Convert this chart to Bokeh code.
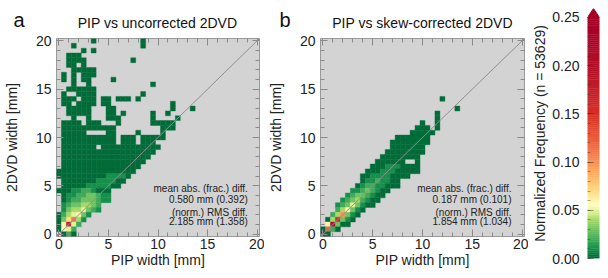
import numpy as np
from bokeh.plotting import figure
from bokeh.models import (Range1d, LinearAxis, FixedTicker, Label,
                          PrintfTickFormatter, ColumnDataSource)
from bokeh.layouts import row, column
from bokeh.embed import file_html
from bokeh.resources import INLINE

# ---------------- data ----------------
BIN_MM = 0.5
AXIS_LO, AXIS_HI = -0.25, 20.25
MM_TICKS = [0, 5, 10, 15, 20]
MM_MINOR = list(range(0, 21))
CB_TICKS = [0.00, 0.05, 0.10, 0.15, 0.20, 0.25]
CB_MINOR = [round(0.01 * i, 2) for i in range(26)]
CB_MAX = 0.25
N_TOTAL = 53629
LOW_LEVEL = 0.001   # value of a '#' cell; other chars = base-36 value / 100

# (row index ky, first column index kx, pattern); cell centre = index * 0.5 mm
CELLS_A = [
    (40, 7, "#.........#"),
    (39, 3, "#.............#"),
    (38, 5, "#.#"),
    (37, 2, "###"),
    (36, 2, "####.........#"),
    (35, 2, "##.#"),
    (34, 3, "#####"),
    (33, 1, "#.#.###"),
    (32, 1, "#.#.##....#"),
    (31, 3, "#..#............#"),
    (30, 2, "######"),
    (29, 1, "#..####.........#"),
    (28, 1, "###.###.##.###.#"),
    (27, 1, "##.####.##............#"),
    (26, 2, "#####...##...........#...#"),
    (25, 2, "#####...##.#.....#..#"),
    (24, 3, "#..#...###......#....#"),
    (23, 1, "####.###...#......#####"),
    (22, 1, "###########.........###"),
    (21, 1, "#####....##....#....#"),
    (20, 1, "###########.###.#####"),
    (19, 1, "###########.###.###"),
    (18, 1, "#######.############"),
    (17, 1, "###################"),
    (16, 1, "##################"),
    (15, 1, "#################"),
    (14, 1, "################"),
    (13, 0, "################"),
    (12, 0, "##########1111#"),
    (11, 1, "#######1111##"),
    (10, 1, "#####11111##"),
    (9, 0, "###11221###"),
    (8, 1, "#112233211"),
    (7, 1, "#122333211"),
    (6, 1, "12334432"),
    (5, 1, "13445321"),
    (4, 0, "#245631"),
    (3, 0, "#37b41"),
    (2, 0, "#6h52"),
    (1, 0, "#652"),
    (0, 1, "#2#"),
]

CELLS_B = [
    (28, 24, "#"),
    (26, 27, "#"),
    (25, 23, "#"),
    (24, 23, "#"),
    (23, 20, "#..#"),
    (22, 19, "###.#"),
    (21, 18, "#####"),
    (20, 15, "#######"),
    (19, 14, "########"),
    (18, 14, "#######"),
    (17, 13, "########"),
    (16, 12, "########"),
    (15, 11, "######..#"),
    (14, 10, "###111####"),
    (13, 9, "###111#####"),
    (12, 8, "##1111####"),
    (11, 8, "#11211##"),
    (10, 7, "#12211###"),
    (9, 6, "112321##"),
    (8, 5, "123321##"),
    (7, 4, "123421##"),
    (6, 3, "123531##"),
    (5, 3, "24631#"),
    (4, 2, "24a31#"),
    (3, 1, "#4g31#"),
    (2, 1, "6l3##"),
    (1, 0, "#c2#"),
    (0, 0, "##"),
]

TITLES = ["PIP vs uncorrected 2DVD", "PIP vs skew-corrected 2DVD"]
LETTERS = ["a", "b"]
STATS_A = ["mean abs. (frac.) diff.", "0.580 mm (0.392)",
           "(norm.) RMS diff.", "2.185 mm (1.358)"]
STATS_B = ["mean abs. (frac.) diff.", "0.187 mm (0.101)",
           "(norm.) RMS diff.", "1.854 mm (1.034)"]
XLABEL = "PIP width [mm]"
YLABEL = "2DVD width [mm]"
CBLABEL = "Normalized Frequency (n = %d)" % N_TOTAL

# ---------------- style ----------------
FONT = "Liberation Sans"
CM_POS = [0.0, 0.012, 0.028, 0.040, 0.048, 0.056, 0.068, 0.088, 0.115, 0.150, 0.195, 0.25]
CM_HEX = ["#006837", "#1a9850", "#66bd63", "#a6d96a", "#d9ef8b", "#ffffbf",
          "#fee08b", "#fdae61", "#f46d43", "#d73027", "#b5122a", "#a50026"]
CM_RGB = np.array([[int(h[i:i + 2], 16) for i in (1, 3, 5)] for h in CM_HEX], float)

HDR_H = 30
PANEL_H = 240
PW = 264


def cmap(v):
    v = min(max(v, 0.0), CB_MAX)
    rgb = [np.interp(v, CM_POS, CM_RGB[:, k]) for k in range(3)]
    return "#%02x%02x%02x" % tuple(int(round(c)) for c in rgb)


def parse(cells):
    xs, ys, cs = [], [], []
    for ky, kx0, pat in cells:
        for off, ch in enumerate(pat):
            if ch == ".":
                continue
            v = LOW_LEVEL if ch == "#" else int(ch, 36) / 100.0
            xs.append((kx0 + off) * BIN_MM)
            ys.append(ky * BIN_MM)
            cs.append(cmap(v))
    return xs, ys, cs


def style_axis(ax, labels):
    ax.ticker = FixedTicker(ticks=MM_TICKS, minor_ticks=MM_MINOR)
    ax.major_tick_in = 7
    ax.major_tick_out = 0
    ax.minor_tick_in = 4
    ax.minor_tick_out = 0
    ax.major_tick_line_color = "#8a8a8a"
    ax.minor_tick_line_color = "#8a8a8a"
    ax.axis_line_color = None
    ax.major_label_text_font = FONT
    ax.axis_label_text_font = FONT
    ax.axis_label_text_font_style = "normal"
    ax.axis_label_text_font_size = "14px"
    ax.axis_label_text_color = "#222222"
    if labels:
        ax.major_label_text_font_size = "14px"
        ax.major_label_text_color = "#222222"
    else:
        ax.major_label_text_font_size = "1px"
        ax.major_label_text_color = None
        ax.major_label_standoff = 0


def header(title, letter, letter_x, title_x):
    h = figure(width=PW, height=HDR_H, x_range=Range1d(0, PW), y_range=Range1d(0, HDR_H),
               min_border=0, min_border_left=0, min_border_right=0,
               min_border_top=0, min_border_bottom=0,
               x_axis_location=None, y_axis_location=None,
               toolbar_location=None, output_backend="svg", title=None)
    h.frame_align = False
    h.outline_line_color = None
    h.grid.visible = False
    h.add_layout(Label(x=letter_x, y=HDR_H - 19, text=letter, text_align="left",
                       text_baseline="alphabetic", text_font=FONT,
                       text_font_size="20px", text_color="#111111"))
    h.add_layout(Label(x=title_x, y=HDR_H - 22, text=title, text_align="center",
                       text_baseline="alphabetic", text_font=FONT,
                       text_font_size="14px", text_color="#111111"))
    return h


def panel(cells, stats, left, right, stats_x):
    p = figure(width=PW, height=PANEL_H,
               x_range=Range1d(AXIS_LO, AXIS_HI), y_range=Range1d(AXIS_LO, AXIS_HI),
               min_border_left=left, min_border_right=right,
               min_border_top=8, min_border_bottom=34,
               toolbar_location=None, output_backend="svg", title=None)
    p.frame_align = False
    p.background_fill_color = "#d3d3d3"
    p.border_fill_color = "white"
    p.outline_line_color = "#9a9a9a"
    p.grid.visible = False

    xs, ys, cs = parse(cells)
    src = ColumnDataSource(dict(x=xs, y=ys, c=cs))
    p.rect("x", "y", width=BIN_MM, height=BIN_MM, source=src,
           fill_color="c", line_color="c", line_width=0.4)
    p.line([AXIS_LO, AXIS_HI], [AXIS_LO, AXIS_HI], line_color="#8f8f8f", line_width=1)

    p.add_layout(LinearAxis(), "above")
    p.add_layout(LinearAxis(), "right")
    style_axis(p.below[0], True)
    style_axis(p.left[0], True)
    style_axis(p.above[0], False)
    style_axis(p.right[0], False)
    p.below[0].axis_label = XLABEL
    p.below[0].major_label_standoff = 2
    p.below[0].axis_label_standoff = 0
    p.left[0].axis_label = YLABEL
    p.left[0].major_label_standoff = 5
    p.left[0].axis_label_standoff = 13

    for txt, yy in zip(stats, [4.73, 3.62, 2.28, 1.33]):
        p.add_layout(Label(x=stats_x, y=yy, text=txt, text_align="right",
                           text_baseline="middle", text_font=FONT,
                           text_font_size="10px", text_color="#222222"))
    return p


col_a = column(header(TITLES[0], LETTERS[0], 13, 55 + 102),
               panel(CELLS_A, STATS_A, 55, 5, 19.07))
col_b = column(header(TITLES[1], LETTERS[1], 15, 56 + 102),
               panel(CELLS_B, STATS_B, 56, 4, 18.94))

# ---------------- colour bar ----------------
CB_TOP = 0.2593
cb = figure(width=72, height=HDR_H + PANEL_H, x_range=Range1d(0, 1), y_range=Range1d(0, CB_TOP),
            min_border_left=59, min_border_right=1, min_border_top=8, min_border_bottom=12,
            x_axis_location=None, y_axis_location="left",
            toolbar_location=None, output_backend="svg", title=None)
cb.frame_align = False
cb.outline_line_color = None
cb.grid.visible = False
steps = np.linspace(0, CB_MAX, 126)
mids = (steps[:-1] + steps[1:]) / 2
bar_cols = [cmap(m) for m in mids]
cb.quad(left=0, right=1, bottom=steps[:-1], top=steps[1:],
        fill_color=bar_cols, line_color=bar_cols, line_width=0.5)
cb.patch([0, 1, 0.5], [CB_MAX, CB_MAX, CB_TOP], fill_color=cmap(CB_MAX),
         line_color=cmap(CB_MAX))
ya = cb.yaxis[0]
ya.ticker = FixedTicker(ticks=CB_TICKS, minor_ticks=CB_MINOR)
ya.formatter = PrintfTickFormatter(format="%.2f")
ya.major_tick_in = 6
ya.major_tick_out = 0
ya.minor_tick_in = 3
ya.minor_tick_out = 0
ya.major_tick_line_color = "#333333"
ya.major_tick_line_alpha = 0.5
ya.minor_tick_line_color = "#333333"
ya.minor_tick_line_alpha = 0.4
ya.axis_line_color = None
ya.major_label_text_font = FONT
ya.major_label_text_font_size = "14px"
ya.major_label_text_color = "#222222"
ya.major_label_standoff = 8
ya.axis_label = CBLABEL
ya.axis_label_text_font = FONT
ya.axis_label_text_font_style = "normal"
ya.axis_label_text_font_size = "14px"
ya.axis_label_text_color = "#222222"
ya.axis_label_standoff = 1

layout = row(col_a, col_b, cb)
open("out.html", "w").write(file_html(layout, INLINE))
